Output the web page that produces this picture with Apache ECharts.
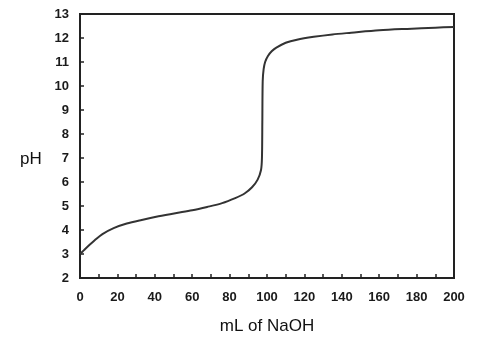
<!DOCTYPE html>
<html>
<head>
<meta charset="utf-8">
<script src="https://cdn.jsdelivr.net/npm/echarts@6/dist/echarts.min.js"></script>
<style>
  html, body { margin: 0; padding: 0; background: #fff; }
  #chart { width: 488px; height: 345px; }
</style>
</head>
<body>
<div id="chart"></div>
<script>
// titration curve
const naohMl = [0, 2, 4, 8, 12, 18, 25, 33, 42, 51, 60, 68, 76, 83, 88, 92, 95, 96.8, 97.3, 97.5, 97.7, 98.2, 99, 100.5, 102.5, 105, 110, 116, 125, 135, 145, 160, 175, 190, 200]
const phValues = [3.0, 3.15, 3.3, 3.58, 3.83, 4.08, 4.27, 4.42, 4.57, 4.7, 4.82, 4.96, 5.12, 5.33, 5.52, 5.78, 6.1, 6.5, 7.0, 8.5, 10.2, 10.7, 11.0, 11.25, 11.45, 11.6, 11.8, 11.93, 12.05, 12.15, 12.22, 12.32, 12.38, 12.43, 12.46]

const xTickLabels = [0, 20, 40, 60, 80, 100, 120, 140, 160, 180, 200]

const chart = echarts.init(document.getElementById('chart'))

const labelFont = { fontFamily: 'Liberation Sans', fontSize: 13, fontWeight: 'bold', color: '#1a1a1a' }

chart.setOption({
  backgroundColor: '#fff',
  animation: false,
  grid: {
    left: 80,
    right: 34,
    top: 14,
    bottom: 67,
    show: true,
    borderColor: '#222',
    borderWidth: 2
  },
  xAxis: {
    type: 'value',
    min: 0,
    max: 200,
    interval: 10,
    name: 'mL of NaOH',
    nameLocation: 'middle',
    nameGap: 40,
    nameTextStyle: { fontFamily: 'Liberation Sans', fontSize: 17, color: '#111' },
    axisLine: { lineStyle: { color: '#222', width: 2 } },
    axisTick: { inside: true, length: 4, lineStyle: { color: '#222', width: 1.5 } },
    axisLabel: Object.assign({}, labelFont, {
      margin: 13,
      formatter: v => (xTickLabels.indexOf(v) >= 0 ? String(v) : '')
    }),
    splitLine: { show: false }
  },
  yAxis: {
    type: 'value',
    min: 2,
    max: 13,
    interval: 1,
    axisLine: { lineStyle: { color: '#222', width: 2 } },
    axisTick: { inside: true, length: 4, lineStyle: { color: '#222', width: 1.5 } },
    axisLabel: Object.assign({}, labelFont, { margin: 11 }),
    splitLine: { show: false }
  },
  graphic: [{
    type: 'text',
    left: 20,
    top: 151,
    style: { text: 'pH', fontFamily: 'Liberation Sans', fontSize: 17, fill: '#111' }
  }],
  series: [{
    type: 'line',
    data: naohMl.map((x, i) => [x, phValues[i]]),
    smooth: 0.3,
    showSymbol: false,
    lineStyle: { color: '#333', width: 2 }
  }]
})
</script>
</body>
</html>
